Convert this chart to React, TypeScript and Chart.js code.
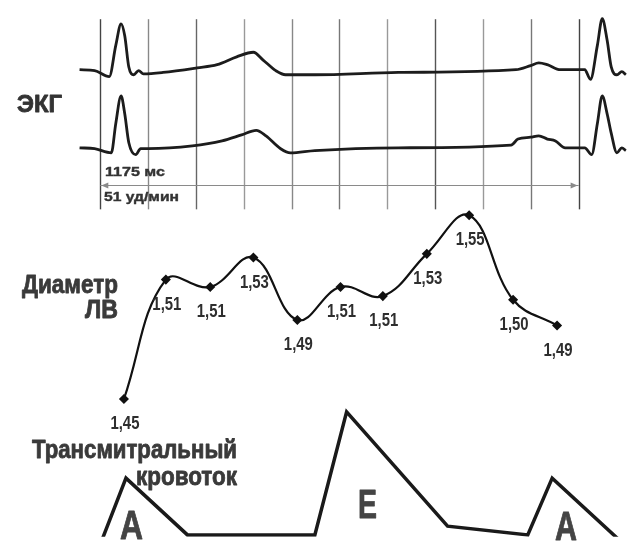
import React, { useEffect, useRef } from "react";
import { Chart, registerables } from "chart.js";
Chart.register(...registerables);

// ---- ECG (time in ms from first grid line, amplitude in mV) ----
const ecgTime1 = [-51, -14, 22, 38, 51, 60, 70, 82, 94, 106, 154, 238, 287, 335, 376, 400, 431, 455, 527, 732, 1021, 1057, 1077, 1098, 1130, 1190, 1204, 1221, 1233, 1245, 1255, 1269, 1281, 1291];
const ecgLead1 = [0, -0.02, -0.15, 0.53, 1.0, 0.74, 0.06, -0.11, -0.02, -0.09, -0.06, 0.04, 0.11, 0.28, 0.38, 0.21, -0.02, -0.11, -0.11, -0.06, 0, 0.09, 0.15, 0.11, 0, 0, -0.21, 0.53, 1.11, 0.64, 0.06, -0.11, -0.04, -0.11];
const ecgTime2 = [-51, -14, 27, 38, 51, 60, 70, 87, 99, 118, 226, 299, 347, 383, 407, 443, 467, 527, 732, 1009, 1026, 1057, 1077, 1098, 1118, 1142, 1190, 1207, 1221, 1233, 1245, 1255, 1269, 1281, 1291];
const ecgLead2 = [0, -0.02, -0.11, 0.53, 1.13, 0.74, 0.11, -0.15, -0.02, -0.02, 0.04, 0.15, 0.28, 0.38, 0.26, -0.02, -0.11, -0.06, 0, 0.06, 0.19, 0.23, 0.26, 0.19, 0.15, 0, 0, -0.15, 0.53, 1.13, 0.74, 0.32, -0.11, 0, -0.06];
const lead2Offset = 1.7;

// ---- vertical time grid (ms) ----
const gridTimes = [0, 117.5, 235, 352.5, 470, 587.5, 705, 822.5, 940, 1057.5, 1175];
const gridColors = ["#444", "#888", "#666", "#999", "#888", "#777", "#999", "#555", "#999", "#777", "#444"];
const gridTop = 1.1;
const gridBottom = -3.04;
const arrowLevel = -2.51;
const rrInterval = 1175;
const rrLabel = "1175 мс";
const hrLabel = "51 уд/мин";

// ---- LV diameter (cm) ----
const diamTime = [58, 161, 270, 376, 484, 590, 694, 802, 906, 1014, 1122];
const diamValues = [1.45, 1.515, 1.511, 1.527, 1.493, 1.511, 1.506, 1.529, 1.55, 1.504, 1.49];
const diamLabels = ["1,45", "1,51", "1,51", "1,53", "1,49", "1,51", "1,51", "1,53", "1,55", "1,50", "1,49"];

// ---- transmitral flow (m/s) ----
const flowTime = [-5, 63, 214, 527, 605, 853, 1050, 1110, 1300];
const flowValues = [0, 0.415, 0.085, 0.085, 0.8, 0.136, 0.085, 0.415, 0];
const flowWaveLabels = ["A", "E", "A"];

const FONT = '"Liberation Sans", Arial, sans-serif';

function drawFit(
  ctx: CanvasRenderingContext2D,
  s: string,
  left: number,
  width: number,
  baseline: number,
  size: number,
  weight: string,
  color: string,
  stroke = 0
) {
  ctx.save();
  ctx.font = `${weight} ${size}px ${FONT}`;
  ctx.fillStyle = color;
  ctx.strokeStyle = color;
  ctx.textAlign = "left";
  ctx.textBaseline = "alphabetic";
  const w = ctx.measureText(s).width || 1;
  ctx.translate(left, baseline);
  ctx.scale(width / w, 1);
  ctx.fillText(s, 0, 0);
  if (stroke > 0) {
    ctx.lineWidth = stroke;
    ctx.lineJoin = "round";
    ctx.strokeText(s, 0, 0);
  }
  ctx.restore();
}

export default function App() {
  const ref = useRef<HTMLCanvasElement>(null);
  useEffect(() => {
    const canvas = ref.current!;
    const overlay = {
      id: "overlay",
      beforeDatasetsDraw(chart: any) {
        const ctx: CanvasRenderingContext2D = chart.ctx;
        const x = chart.scales.x;
        const yE = chart.scales.yE;
        ctx.save();
        const yT = yE.getPixelForValue(gridTop);
        const yB = yE.getPixelForValue(gridBottom);
        gridTimes.forEach((t, i) => {
          const px = Math.round(x.getPixelForValue(t)) + 0.5;
          ctx.strokeStyle = gridColors[i];
          ctx.lineWidth = 1.4;
          ctx.beginPath();
          ctx.moveTo(px, yT);
          ctx.lineTo(px, yB);
          ctx.stroke();
        });
        const ay = Math.round(yE.getPixelForValue(arrowLevel)) + 0.5;
        const ax0 = x.getPixelForValue(0);
        const ax1 = x.getPixelForValue(rrInterval);
        ctx.strokeStyle = "#8a8a8a";
        ctx.fillStyle = "#8a8a8a";
        ctx.lineWidth = 1;
        ctx.beginPath();
        ctx.moveTo(ax0, ay);
        ctx.lineTo(ax1, ay);
        ctx.stroke();
        ctx.beginPath();
        ctx.moveTo(ax0 + 1, ay);
        ctx.lineTo(ax0 + 8, ay - 3);
        ctx.lineTo(ax0 + 8, ay + 3);
        ctx.closePath();
        ctx.fill();
        ctx.beginPath();
        ctx.moveTo(ax1 - 1, ay);
        ctx.lineTo(ax1 - 8, ay - 3);
        ctx.lineTo(ax1 - 8, ay + 3);
        ctx.closePath();
        ctx.fill();
        ctx.restore();

        drawFit(ctx, rrLabel, 105, 60, 176, 13, "bold", "#333", 0.4);
        drawFit(ctx, hrLabel, 104, 75, 201, 13, "bold", "#333", 0.4);
        drawFit(ctx, "ЭКГ", 17, 45, 112, 24, "bold", "#333", 0.8);
        drawFit(ctx, "Диаметр", 22, 96, 293, 25, "bold", "#3a3a3a", 0.8);
        drawFit(ctx, "ЛВ", 85, 33, 318, 25, "bold", "#3a3a3a", 0.8);
        drawFit(ctx, "Трансмитральный", 32, 205, 458, 25, "bold", "#3a3a3a", 0.8);
        drawFit(ctx, "кровоток", 136, 101, 485, 25, "bold", "#3a3a3a", 0.8);
        drawFit(ctx, flowWaveLabels[0], 120, 23, 539, 40, "bold", "#444", 0.8);
        drawFit(ctx, flowWaveLabels[1], 358, 19, 518, 40, "bold", "#444", 0.8);
        drawFit(ctx, flowWaveLabels[2], 555, 22, 540, 40, "bold", "#444", 0.8);
      },
      afterDatasetsDraw(chart: any) {
        const ctx: CanvasRenderingContext2D = chart.ctx;
        const meta = chart.getDatasetMeta(2);
        meta.data.forEach((pt: any, i: number) => {
          const w = 29;
          drawFit(ctx, diamLabels[i], pt.x - w / 2 + 1, w, pt.y + 30, 18, "bold", "#2e2e2e");
        });
      },
    };

    const chart = new Chart(canvas, {
      type: "line",
      data: {
        datasets: [
          {
            data: ecgTime1.map((t, i) => ({ x: t, y: ecgLead1[i] })),
            yAxisID: "yE",
            borderColor: "#1c1c1c",
            borderWidth: 2.8,
            pointRadius: 0,
            cubicInterpolationMode: "monotone",
          },
          {
            data: ecgTime2.map((t, i) => ({ x: t, y: ecgLead2[i] - lead2Offset })),
            yAxisID: "yE",
            borderColor: "#1c1c1c",
            borderWidth: 2.8,
            pointRadius: 0,
            cubicInterpolationMode: "monotone",
          },
          {
            data: diamTime.map((t, i) => ({ x: t, y: diamValues[i] })),
            yAxisID: "yD",
            borderColor: "#111",
            borderWidth: 2.2,
            pointStyle: "rectRot",
            pointRadius: 3.5,
            pointBackgroundColor: "#111",
            pointBorderColor: "#111",
            tension: 0.4,
          },
          {
            data: flowTime.map((t, i) => ({ x: t, y: flowValues[i] })),
            yAxisID: "yF",
            borderColor: "#1a1a1a",
            borderWidth: 3.5,
            pointRadius: 0,
            tension: 0,
            borderJoinStyle: "miter",
          },
        ] as any,
      },
      options: {
        responsive: false,
        animation: false,
        devicePixelRatio: 1,
        layout: { padding: 0 },
        plugins: { legend: { display: false }, tooltip: { enabled: false } },
        events: [],
        scales: {
          x: { type: "linear", min: -231.2, max: 1298.2, display: false },
          yE: { type: "linear", min: -10.17, max: 1.383, display: false },
          yD: { type: "linear", min: 1.375, max: 1.6638, display: false },
          yF: { type: "linear", min: 0.0739, max: 3.159, display: false },
        },
      } as any,
      plugins: [overlay],
    });
    return () => chart.destroy();
  }, []);

  return (
    <div style={{ position: "fixed", left: 0, top: 0, width: 635, height: 543, background: "#fff" }}>
      <canvas ref={ref} width={635} height={543} style={{ display: "block", width: 635, height: 543 }} />
    </div>
  );
}
